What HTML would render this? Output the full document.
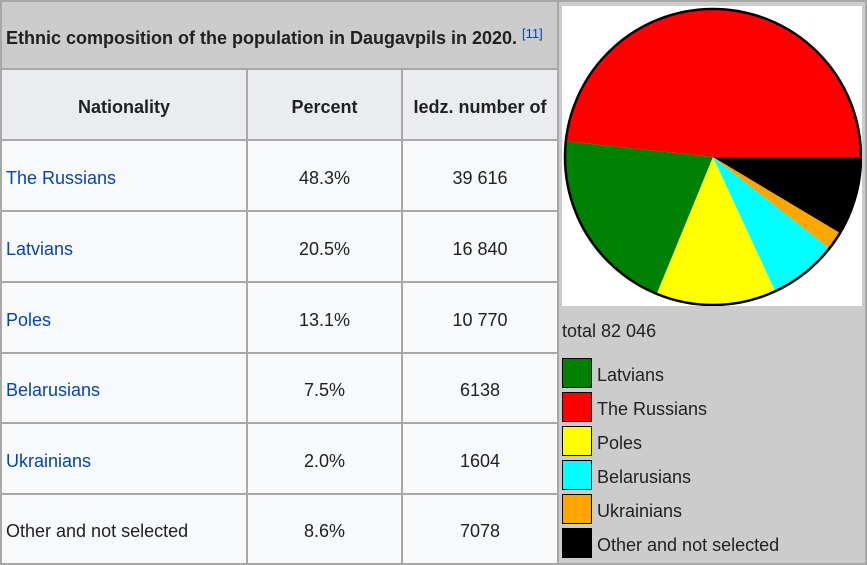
<!DOCTYPE html>
<html><head><style>
body{margin:0;width:867px;height:565px;background:#fff;font-family:"Liberation Sans",Arial,sans-serif;font-size:18px;color:#202122;position:relative;overflow:hidden}
.a{position:absolute}
.c{position:absolute;box-sizing:border-box;display:flex;align-items:center}
.h{background:#eaecf0;font-weight:bold;justify-content:center;padding-top:5px}
.b{background:#f8f9fa;padding-top:5px}
.ctr{justify-content:center}
.l{color:#0645ad;padding-left:4px}
.lg{position:absolute;left:562px;width:28px;height:28px;border:1px solid #000}
.lt{position:absolute;left:597px;font-size:18px;color:#202122}
</style></head><body>
<div class="a" style="left:0;top:0;width:867px;height:565px;background:#a8a8a8"></div>
<div class="c" style="left:2px;top:2px;width:555px;height:66px;background:#cccccc;font-weight:bold;padding-left:4px;padding-top:6px;white-space:nowrap">Ethnic composition of the population in Daugavpils in 2020.&nbsp;<sup style="font-weight:normal;font-size:13px;color:#0645ad;position:relative;top:-5px">[11]</sup></div>
<div class="c h" style="left:2px;top:70px;width:244px;height:69px">Nationality</div>
<div class="c h" style="left:248px;top:70px;width:153px;height:69px">Percent</div>
<div class="c h" style="left:403px;top:70px;width:154px;height:69px;white-space:nowrap">Iedz. number of</div>

<div class="c b l" style="left:2px;top:141px;width:244px;height:69px">The Russians</div>
<div class="c b ctr" style="left:248px;top:141px;width:153px;height:69px">48.3%</div>
<div class="c b ctr" style="left:403px;top:141px;width:154px;height:69px">39 616</div>

<div class="c b l" style="left:2px;top:212px;width:244px;height:69px">Latvians</div>
<div class="c b ctr" style="left:248px;top:212px;width:153px;height:69px">20.5%</div>
<div class="c b ctr" style="left:403px;top:212px;width:154px;height:69px">16 840</div>

<div class="c b l" style="left:2px;top:283px;width:244px;height:69px">Poles</div>
<div class="c b ctr" style="left:248px;top:283px;width:153px;height:69px">13.1%</div>
<div class="c b ctr" style="left:403px;top:283px;width:154px;height:69px">10 770</div>

<div class="c b l" style="left:2px;top:354px;width:244px;height:68px">Belarusians</div>
<div class="c b ctr" style="left:248px;top:354px;width:153px;height:68px">7.5%</div>
<div class="c b ctr" style="left:403px;top:354px;width:154px;height:68px">6138</div>

<div class="c b l" style="left:2px;top:424px;width:244px;height:69px">Ukrainians</div>
<div class="c b ctr" style="left:248px;top:424px;width:153px;height:69px">2.0%</div>
<div class="c b ctr" style="left:403px;top:424px;width:154px;height:69px">1604</div>

<div class="c b" style="left:2px;top:495px;width:244px;height:68px;padding-left:4px">Other and not selected</div>
<div class="c b ctr" style="left:248px;top:495px;width:153px;height:68px">8.6%</div>
<div class="c b ctr" style="left:403px;top:495px;width:154px;height:68px">7078</div>

<div class="a" style="left:559px;top:2px;width:306px;height:561px;background:#cccccc"></div>
<svg class="a" style="left:562px;top:6px" width="300" height="300" viewBox="562 6 300 300">
<rect x="562" y="6" width="300" height="300" fill="#fff"/>
<path d="M713,157 L861,157 A148,148 0 0 0 565.8,141.3 Z" fill="#f00"/>
<path d="M713,157 L565.8,141.3 A148,148 0 0 0 656.8,293.9 Z" fill="#008000"/>
<path d="M713,157 L656.8,293.9 A148,148 0 0 0 775.3,291.2 Z" fill="#ff0"/>
<path d="M713,157 L775.3,291.2 A148,148 0 0 0 829.5,248.3 Z" fill="#0ff"/>
<path d="M713,157 L829.5,248.3 A148,148 0 0 0 840,233 Z" fill="#ffa500"/>
<path d="M713,157 L840,233 A148,148 0 0 0 861,157 Z" fill="#000"/>
<circle cx="713" cy="157" r="148" fill="none" stroke="#000" stroke-width="2.5"/>
</svg>
<div class="a" style="left:562px;top:321px;font-size:18px">total 82 046</div>
<div class="lg" style="top:358px;background:#008000"></div><div class="lt" style="top:365px">Latvians</div>
<div class="lg" style="top:392px;background:#f00"></div><div class="lt" style="top:399px">The Russians</div>
<div class="lg" style="top:426px;background:#ff0"></div><div class="lt" style="top:433px">Poles</div>
<div class="lg" style="top:460px;background:#0ff"></div><div class="lt" style="top:467px">Belarusians</div>
<div class="lg" style="top:494px;background:#ffa500"></div><div class="lt" style="top:501px">Ukrainians</div>
<div class="lg" style="top:528px;background:#000"></div><div class="lt" style="top:535px">Other and not selected</div>
</body></html>
